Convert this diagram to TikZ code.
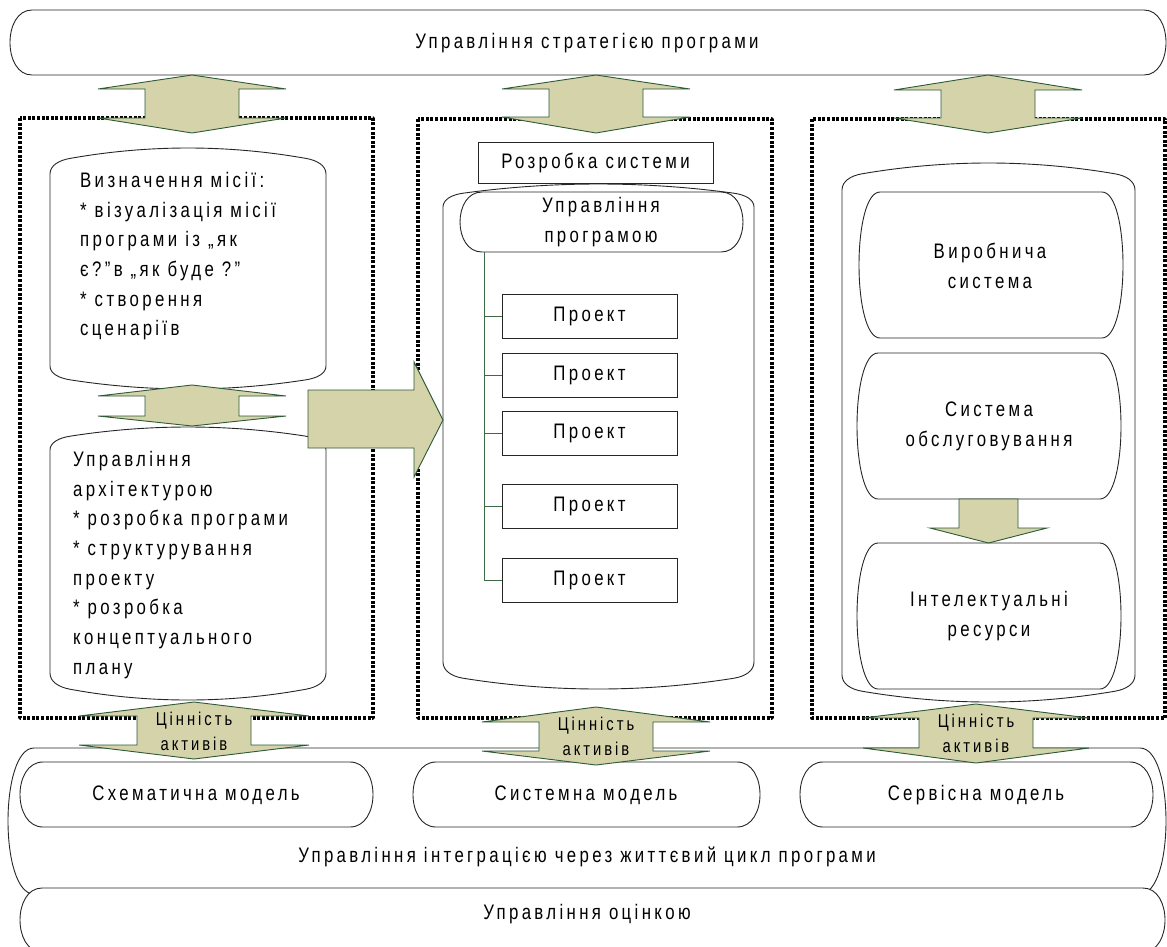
\documentclass[tikz,border=0pt]{standalone}
\usepackage{fontspec}
\setmainfont{Liberation Sans}[LetterSpace=16,FakeStretch=0.8]
\definecolor{arrfill}{RGB}{212,211,170}
\definecolor{arrline}{RGB}{45,90,55}
\definecolor{treeline}{RGB}{60,105,70}
\newcommand\bulgeshape[6][]{%
 \draw[#1] ({#2+#6},#4) -- ({#3-#6},#4) .. controls ({#3+#6/3},#4) and ({#3+#6/3},#5) .. ({#3-#6},#5) -- ({#2+#6},#5) .. controls ({#2-#6/3},#5) and ({#2-#6/3},#4) .. cycle;}
\newcommand\cylshape[7][]{%
 \pgfmathsetmacro\cxm{(#2+#3)/2}%
 \pgfmathsetmacro\cL{\cxm-#2-20}%
 \pgfmathsetmacro\cQt{#5-0.6*(#5-#4)}%
 \pgfmathsetmacro\cHt{0.4*(#5-#4)}%
 \pgfmathsetmacro\cSt{2*\cHt/\cL}%
 \pgfmathsetmacro\cQb{#6+0.6*(#7-#6)}%
 \pgfmathsetmacro\cHb{0.4*(#7-#6)}%
 \pgfmathsetmacro\cSb{2*\cHb/\cL}%
 \draw[#1] (#2,#6) -- (#2,#5)
   .. controls (#2,{#5-0.55*(#5-\cQt)}) and ({#2+9},{\cQt+11*\cSt}) .. ({#2+20},\cQt)
   .. controls ({#2+20+\cL/3},{\cQt-2*\cHt/3}) and ({\cxm-\cL/3},#4) .. (\cxm,#4)
   .. controls ({\cxm+\cL/3},#4) and ({#3-20-\cL/3},{\cQt-2*\cHt/3}) .. ({#3-20},\cQt)
   .. controls ({#3-9},{\cQt+11*\cSt}) and (#3,{#5-0.55*(#5-\cQt)}) .. (#3,#5)
   -- (#3,#6)
   .. controls (#3,{#6+0.55*(\cQb-#6)}) and ({#3-9},{\cQb-11*\cSb}) .. ({#3-20},\cQb)
   .. controls ({#3-20-\cL/3},{\cQb+2*\cHb/3}) and ({\cxm+\cL/3},#7) .. (\cxm,#7)
   .. controls ({\cxm-\cL/3},#7) and ({#2+20+\cL/3},{\cQb+2*\cHb/3}) .. ({#2+20},\cQb)
   .. controls ({#2+9},{\cQb-11*\cSb}) and (#2,{#6+0.55*(\cQb-#6)}) .. (#2,#6) -- cycle;}
% double block arrow: xc ytop yw1 yw2 ybot hw sw
\newcommand\dblarrow[7]{%
 \draw[blockarrow] (#1,#2) -- ({#1+#6},#3) -- ({#1+#7},#3) -- ({#1+#7},#4) -- ({#1+#6},#4) -- (#1,#5)
   -- ({#1-#6},#4) -- ({#1-#7},#4) -- ({#1-#7},#3) -- ({#1-#6},#3) -- cycle;}
\begin{document}
\begin{tikzpicture}[x=1pt,y=-1pt,
  shapeline/.style={draw=black!85,line width=0.9pt,fill=white},
  dotbox/.style={draw=black,line width=3.4pt,dash pattern=on 3pt off 1.6pt,line join=round},
  blockarrow/.style={draw=arrline,line width=0.9pt,fill=arrfill,line join=miter},
  txt/.style={font=\fontsize{21}{29.7}\selectfont,inner sep=0pt},
  smalltxt/.style={font=\fontsize{18.5}{25}\selectfont,inner sep=0pt,align=center},
  projbox/.style={draw=black!85,line width=0.9pt,fill=white,minimum width=175pt,minimum height=44pt,inner sep=0pt,font=\fontsize{21}{22}\selectfont},
  treepath/.style={draw=treeline,line width=0.9pt}]
\useasboundingbox (0,0) rectangle (1167,946);
\fill[white] (0,0) rectangle (1167,946);

% top bar
\bulgeshape[shapeline]{10}{1166}{10}{75}{22}
\node[txt] (strat) at (587,43) {Управління стратегією програми};

% dotted boxes
\draw[dotbox] (20,118) rectangle (373,718);
\draw[dotbox] (418,119) rectangle (772,718);
\draw[dotbox] (812,119) rectangle (1165,718);

% bottom shapes
\bulgeshape[shapeline]{8}{1166}{748}{894}{26}
\bulgeshape[shapeline]{20}{1165}{888}{952}{22}
\node[txt] (integr) at (587,857) {Управління інтеграцією через життєвий цикл програми};
\node[txt] (ocin) at (587,914) {Управління оцінкою};
\bulgeshape[shapeline]{20}{373}{762}{827}{23}
\bulgeshape[shapeline]{413}{760}{762}{827}{23}
\bulgeshape[shapeline]{800}{1153}{762}{827}{23}
\node[txt] (m1) at (196,795) {Схематична модель};
\node[txt] (m2) at (586,795) {Системна модель};
\node[txt] (m3) at (976,795) {Сервісна модель};

% left column
\cylshape[shapeline]{50}{326}{148}{174}{366}{389}
\cylshape[shapeline]{50}{326}{427}{450}{673}{700}
\node[txt,anchor=north west,align=left] (mis) at (80,172)
 {Визначення місії:\\* візуалізація місії\\програми із „як\\є?”в „як буде ?”\\* створення\\сценаріїв};
\node[txt,anchor=north west,align=left] (arch) at (73,451)
 {Управління\\архітектурою\\* розробка програми\\* структурування\\проекту\\* розробка\\концептуального\\плану};

% middle column
\cylshape[shapeline]{443}{754}{184}{207}{662}{689}
\node[draw=black!85,line width=0.9pt,fill=white,minimum width=235pt,minimum height=41pt,inner sep=0pt,font=\fontsize{21}{22}\selectfont] (rozsys) at (595.5,162.5) {Розробка системи};
\bulgeshape[shapeline]{460}{743}{192}{252}{22}
\node[txt,align=center] (upm) at (601,222) {Управління\\програмою};
\coordinate (trunk) at (484,252);
\node[projbox] (p1) at (589.5,316) {Проект};
\node[projbox] (p2) at (589.5,375) {Проект};
\node[projbox] (p3) at (589.5,433.5) {Проект};
\node[projbox] (p4) at (589.5,506.5) {Проект};
\node[projbox] (p5) at (589.5,580) {Проект};
\draw[treepath] (trunk) |- (p5.west);
\foreach \p in {p1,p2,p3,p4} {\draw[treepath] (trunk |- \p.west) -- (\p.west);}

% right column
\cylshape[shapeline]{842}{1135}{163}{190}{675}{702}
\bulgeshape[shapeline]{859}{1123}{192}{338}{21}
\bulgeshape[shapeline]{857}{1121}{353}{499}{21}
\bulgeshape[shapeline]{857}{1121}{543}{689}{21}
\node[txt,align=center] (vyr) at (990,266) {Виробнича\\система};
\node[txt,align=center] (obsl) at (989,426) {Система\\обслуговування};
\node[txt,align=center] (intel) at (989,616) {Інтелектуальні\\ресурси};
\draw[blockarrow] (959,499) -- (1018,499) -- (1018,528) -- (1047,528) -- (988.5,543) -- (930,528) -- (959,528) -- cycle;

% vertical double arrows
\dblarrow{192}{75}{89}{118}{133}{94}{47}
\dblarrow{596}{75}{89}{117}{133}{94}{47}
\dblarrow{988}{75}{90}{118}{133}{94}{47}
\dblarrow{192}{385}{396}{416}{426}{94}{47}
\dblarrow{194}{702}{716}{745}{759}{115}{57}
\dblarrow{596}{707}{722}{751}{765}{114}{57}
\dblarrow{976}{704}{718}{748}{763}{113}{57}
\node[smalltxt] (v1) at (194,731) {Цінність\\активів};
\node[smalltxt] (v2) at (596,736) {Цінність\\активів};
\node[smalltxt] (v3) at (976,733) {Цінність\\активів};

% big right arrow
\draw[blockarrow] (308,390) -- (414,390) -- (414,362) -- (443,420) -- (414,477) -- (414,448) -- (308,448) -- cycle;
\end{tikzpicture}
\end{document}
